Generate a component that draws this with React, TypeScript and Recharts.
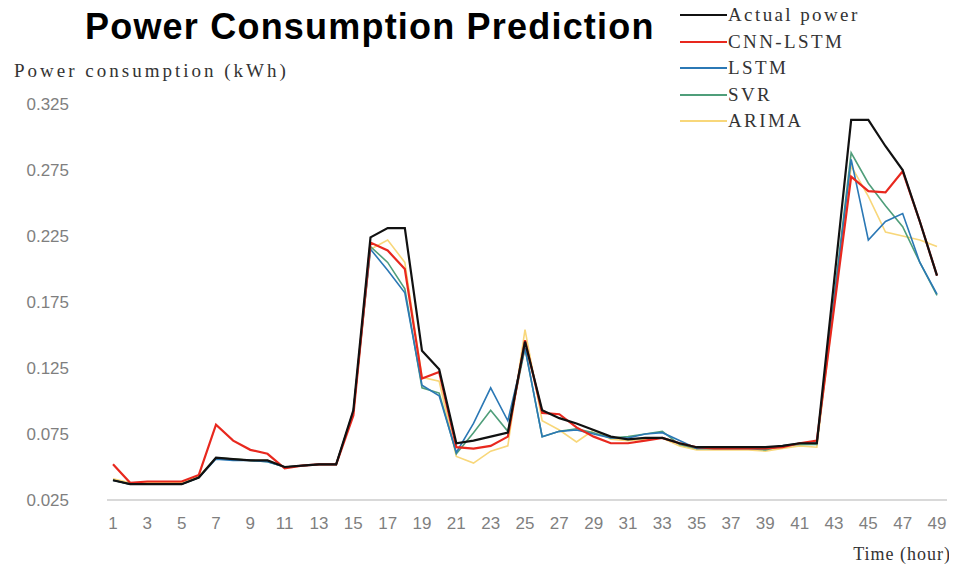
import { LineChart, Line, XAxis, YAxis } from 'recharts';

const hours = [
  '1', '2', '3', '4', '5', '6', '7', '8', '9', '10', '11', '12', '13', '14', '15', '16', '17',
  '18', '19', '20', '21', '22', '23', '24', '25', '26', '27', '28', '29', '30', '31', '32', '33',
  '34', '35', '36', '37', '38', '39', '40', '41', '42', '43', '44', '45', '46', '47', '48', '49',
];

const actualPower = [
  0.040, 0.037, 0.037, 0.037, 0.037, 0.042, 0.057, 0.056, 0.055, 0.055, 0.050, 0.051, 0.052,
  0.052, 0.093, 0.224, 0.231, 0.231, 0.138, 0.124, 0.068, 0.070, 0.073, 0.076, 0.145, 0.093,
  0.087, 0.083, 0.078, 0.073, 0.071, 0.072, 0.072, 0.068, 0.065, 0.065, 0.065, 0.065, 0.065,
  0.066, 0.068, 0.068, 0.190, 0.313, 0.313, 0.293, 0.275, 0.236, 0.195,
];
const cnnLstm = [
  0.052, 0.038, 0.039, 0.039, 0.039, 0.044, 0.082, 0.070, 0.063, 0.060, 0.049, 0.051, 0.052,
  0.052, 0.089, 0.220, 0.214, 0.200, 0.117, 0.122, 0.065, 0.064, 0.066, 0.073, 0.146, 0.091,
  0.090, 0.080, 0.073, 0.068, 0.068, 0.070, 0.072, 0.068, 0.065, 0.064, 0.064, 0.064, 0.064,
  0.065, 0.068, 0.070, 0.170, 0.270, 0.259, 0.258, 0.274, 0.236, 0.195,
];
const lstm = [
  0.040, 0.037, 0.037, 0.037, 0.037, 0.042, 0.056, 0.055, 0.055, 0.054, 0.050, 0.051, 0.052,
  0.052, 0.092, 0.215, 0.199, 0.182, 0.112, 0.104, 0.061, 0.083, 0.110, 0.085, 0.140, 0.073,
  0.077, 0.078, 0.075, 0.072, 0.072, 0.075, 0.076, 0.070, 0.064, 0.064, 0.064, 0.064, 0.064,
  0.066, 0.068, 0.068, 0.175, 0.283, 0.222, 0.236, 0.242, 0.205, 0.181,
];
const svr = [
  0.040, 0.037, 0.037, 0.037, 0.037, 0.042, 0.057, 0.056, 0.055, 0.054, 0.050, 0.051, 0.052,
  0.052, 0.092, 0.217, 0.205, 0.185, 0.110, 0.106, 0.060, 0.076, 0.093, 0.077, 0.140, 0.073,
  0.077, 0.079, 0.076, 0.072, 0.073, 0.075, 0.077, 0.067, 0.064, 0.064, 0.064, 0.064, 0.063,
  0.066, 0.067, 0.067, 0.178, 0.288, 0.265, 0.248, 0.232, 0.205, 0.180,
];
const arima = [
  0.041, 0.038, 0.038, 0.038, 0.038, 0.043, 0.057, 0.056, 0.055, 0.055, 0.050, 0.051, 0.052,
  0.052, 0.090, 0.215, 0.222, 0.205, 0.118, 0.115, 0.058, 0.053, 0.062, 0.066, 0.154, 0.085,
  0.078, 0.069, 0.078, 0.071, 0.070, 0.071, 0.072, 0.066, 0.063, 0.063, 0.063, 0.063, 0.062,
  0.064, 0.066, 0.065, 0.172, 0.278, 0.255, 0.228, 0.225, 0.222, 0.217,
];

const yTicks = [0.025, 0.075, 0.125, 0.175, 0.225, 0.275, 0.325];

const SERIES = [
  { key: 'actual', name: 'Actual power', color: '#111111' },
  { key: 'cnnLstm', name: 'CNN-LSTM', color: '#e8281e' },
  { key: 'lstm', name: 'LSTM', color: '#2b78b5' },
  { key: 'svr', name: 'SVR', color: '#4f9e7a' },
  { key: 'arima', name: 'ARIMA', color: '#f8d77a' },
];

const data = hours.map((h, i) => ({
  hour: h,
  actual: actualPower[i],
  cnnLstm: cnnLstm[i],
  lstm: lstm[i],
  svr: svr[i],
  arima: arima[i],
}));

const labelFont = '"Liberation Serif", serif';
const tickFont = '"Liberation Sans", Arial, sans-serif';

export default function App() {
  return (
    <div style={{ position: 'relative', width: 949, height: 568, background: '#fff' }}>
      <div
        style={{
          position: 'absolute',
          left: 77,
          top: -2,
          fontFamily: tickFont,
          fontWeight: 'bold',
          fontSize: 36,
          letterSpacing: 1.2,
          color: '#000',
          whiteSpace: 'nowrap',
        }}
      >
        Power Consumption Prediction
      </div>
      {/* legend */}
      <div
        style={{
          position: 'absolute',
          left: 672,
          top: -6,
          fontFamily: labelFont,
          fontSize: 19,
          color: '#333',
        }}
      >
        {SERIES.map(s => (
          <div key={s.key} style={{ display: 'flex', alignItems: 'center', height: 26.5 }}>
            <div style={{ width: 47, height: 2, backgroundColor: s.color }} />
            <span style={{ marginLeft: 1, letterSpacing: 2.4, whiteSpace: 'nowrap' }}>{s.name}</span>
          </div>
        ))}
      </div>
      <div
        style={{
          position: 'absolute',
          left: 6,
          top: 52,
          fontFamily: labelFont,
          fontSize: 19,
          letterSpacing: 3,
          color: '#333',
          whiteSpace: 'nowrap',
        }}
      >
        Power consumption (kWh)
      </div>
      <div
        style={{
          position: 'absolute',
          right: 6,
          top: 536,
          fontFamily: labelFont,
          fontSize: 18,
          letterSpacing: 1,
          color: '#333',
          whiteSpace: 'nowrap',
        }}
      >
        Time (hour)
      </div>
      <LineChart
        width={949}
        height={568}
        data={data}
        margin={{ top: 96, right: 10, left: 0, bottom: 36 }}
      >
        <XAxis
          dataKey="hour"
          interval={1}
          padding={{ left: 6, right: 10 }}
          axisLine={{ stroke: '#d9d9d9', strokeWidth: 2 }}
          tickLine={false}
          tickSize={0}
          tickMargin={17}
          height={40}
          tick={{ fontSize: 17, fill: '#7f7f7f', fontFamily: tickFont }}
        />
        <YAxis
          type="number"
          domain={[0.025, 0.325]}
          ticks={yTicks}
          tickFormatter={v => v.toFixed(3)}
          axisLine={false}
          tickLine={false}
          tickSize={0}
          tickMargin={38}
          width={99}
          tick={{ fontSize: 17, fill: '#7f7f7f', fontFamily: tickFont }}
        />
        {SERIES.slice().reverse().map(s => (
          <Line
            key={s.key}
            type="linear"
            dataKey={s.key}
            name={s.name}
            stroke={s.color}
            strokeWidth={s.key === 'actual' || s.key === 'cnnLstm' ? 2.2 : 1.6}
            dot={false}
            isAnimationActive={false}
          />
        ))}
      </LineChart>
    </div>
  );
}
